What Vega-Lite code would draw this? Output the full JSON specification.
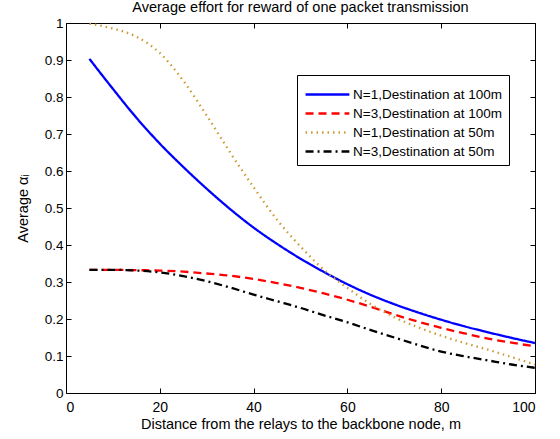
{
  "$schema": "https://vega.github.io/schema/vega-lite/v6.json",
  "width": 469,
  "height": 370,
  "autosize": {"type": "none"},
  "padding": {"left": 66, "top": 23, "right": 25, "bottom": 46},
  "background": "white",
  "config": {
    "font": "Liberation Sans",
    "view": {"stroke": "black", "strokeWidth": 1},
    "axis": {"grid": false, "domain": false, "tickColor": "black", "tickSize": -5, "labelPadding": 8, "labelColor": "black", "labelFontSize": 14, "titleFontSize": 14.5, "titleFontWeight": "normal", "titleColor": "black", "labelFont": "Liberation Sans", "titleFont": "Liberation Sans"},
    "legend": {"labelFont": "Liberation Sans"}
  },
  "title": {"text": "Average effort for reward of one packet transmission", "fontSize": 14.5, "fontWeight": "normal", "font": "Liberation Sans", "color": "black", "offset": 1},
  "data": {"values": [
    {"x": 5, "y": 0.903, "s": "N=1,Destination at 100m"},
    {"x": 10, "y": 0.822, "s": "N=1,Destination at 100m"},
    {"x": 15, "y": 0.744, "s": "N=1,Destination at 100m"},
    {"x": 20, "y": 0.674, "s": "N=1,Destination at 100m"},
    {"x": 25, "y": 0.611, "s": "N=1,Destination at 100m"},
    {"x": 30, "y": 0.552, "s": "N=1,Destination at 100m"},
    {"x": 35, "y": 0.497, "s": "N=1,Destination at 100m"},
    {"x": 40, "y": 0.447, "s": "N=1,Destination at 100m"},
    {"x": 45, "y": 0.403, "s": "N=1,Destination at 100m"},
    {"x": 50, "y": 0.363, "s": "N=1,Destination at 100m"},
    {"x": 55, "y": 0.327, "s": "N=1,Destination at 100m"},
    {"x": 60, "y": 0.294, "s": "N=1,Destination at 100m"},
    {"x": 65, "y": 0.265, "s": "N=1,Destination at 100m"},
    {"x": 70, "y": 0.24, "s": "N=1,Destination at 100m"},
    {"x": 75, "y": 0.218, "s": "N=1,Destination at 100m"},
    {"x": 80, "y": 0.198, "s": "N=1,Destination at 100m"},
    {"x": 85, "y": 0.18, "s": "N=1,Destination at 100m"},
    {"x": 90, "y": 0.164, "s": "N=1,Destination at 100m"},
    {"x": 95, "y": 0.149, "s": "N=1,Destination at 100m"},
    {"x": 100, "y": 0.135, "s": "N=1,Destination at 100m"},
    {"x": 5, "y": 0.333, "s": "N=3,Destination at 100m"},
    {"x": 10, "y": 0.333, "s": "N=3,Destination at 100m"},
    {"x": 15, "y": 0.332, "s": "N=3,Destination at 100m"},
    {"x": 20, "y": 0.331, "s": "N=3,Destination at 100m"},
    {"x": 25, "y": 0.328, "s": "N=3,Destination at 100m"},
    {"x": 30, "y": 0.323, "s": "N=3,Destination at 100m"},
    {"x": 35, "y": 0.317, "s": "N=3,Destination at 100m"},
    {"x": 40, "y": 0.308, "s": "N=3,Destination at 100m"},
    {"x": 45, "y": 0.297, "s": "N=3,Destination at 100m"},
    {"x": 50, "y": 0.284, "s": "N=3,Destination at 100m"},
    {"x": 55, "y": 0.269, "s": "N=3,Destination at 100m"},
    {"x": 60, "y": 0.252, "s": "N=3,Destination at 100m"},
    {"x": 65, "y": 0.233, "s": "N=3,Destination at 100m"},
    {"x": 70, "y": 0.212, "s": "N=3,Destination at 100m"},
    {"x": 75, "y": 0.193, "s": "N=3,Destination at 100m"},
    {"x": 80, "y": 0.176, "s": "N=3,Destination at 100m"},
    {"x": 85, "y": 0.161, "s": "N=3,Destination at 100m"},
    {"x": 90, "y": 0.147, "s": "N=3,Destination at 100m"},
    {"x": 95, "y": 0.136, "s": "N=3,Destination at 100m"},
    {"x": 100, "y": 0.126, "s": "N=3,Destination at 100m"},
    {"x": 5, "y": 0.998, "s": "N=1,Destination at 50m"},
    {"x": 10, "y": 0.985, "s": "N=1,Destination at 50m"},
    {"x": 15, "y": 0.963, "s": "N=1,Destination at 50m"},
    {"x": 20, "y": 0.919, "s": "N=1,Destination at 50m"},
    {"x": 25, "y": 0.844, "s": "N=1,Destination at 50m"},
    {"x": 30, "y": 0.75, "s": "N=1,Destination at 50m"},
    {"x": 35, "y": 0.65, "s": "N=1,Destination at 50m"},
    {"x": 40, "y": 0.556, "s": "N=1,Destination at 50m"},
    {"x": 45, "y": 0.468, "s": "N=1,Destination at 50m"},
    {"x": 50, "y": 0.396, "s": "N=1,Destination at 50m"},
    {"x": 55, "y": 0.333, "s": "N=1,Destination at 50m"},
    {"x": 60, "y": 0.284, "s": "N=1,Destination at 50m"},
    {"x": 65, "y": 0.24, "s": "N=1,Destination at 50m"},
    {"x": 70, "y": 0.205, "s": "N=1,Destination at 50m"},
    {"x": 75, "y": 0.178, "s": "N=1,Destination at 50m"},
    {"x": 80, "y": 0.155, "s": "N=1,Destination at 50m"},
    {"x": 85, "y": 0.135, "s": "N=1,Destination at 50m"},
    {"x": 90, "y": 0.117, "s": "N=1,Destination at 50m"},
    {"x": 95, "y": 0.097, "s": "N=1,Destination at 50m"},
    {"x": 100, "y": 0.077, "s": "N=1,Destination at 50m"},
    {"x": 5, "y": 0.333, "s": "N=3,Destination at 50m"},
    {"x": 10, "y": 0.333, "s": "N=3,Destination at 50m"},
    {"x": 15, "y": 0.331, "s": "N=3,Destination at 50m"},
    {"x": 20, "y": 0.326, "s": "N=3,Destination at 50m"},
    {"x": 25, "y": 0.316, "s": "N=3,Destination at 50m"},
    {"x": 30, "y": 0.302, "s": "N=3,Destination at 50m"},
    {"x": 35, "y": 0.285, "s": "N=3,Destination at 50m"},
    {"x": 40, "y": 0.266, "s": "N=3,Destination at 50m"},
    {"x": 45, "y": 0.248, "s": "N=3,Destination at 50m"},
    {"x": 50, "y": 0.23, "s": "N=3,Destination at 50m"},
    {"x": 55, "y": 0.21, "s": "N=3,Destination at 50m"},
    {"x": 60, "y": 0.191, "s": "N=3,Destination at 50m"},
    {"x": 65, "y": 0.17, "s": "N=3,Destination at 50m"},
    {"x": 70, "y": 0.15, "s": "N=3,Destination at 50m"},
    {"x": 75, "y": 0.13, "s": "N=3,Destination at 50m"},
    {"x": 80, "y": 0.112, "s": "N=3,Destination at 50m"},
    {"x": 85, "y": 0.099, "s": "N=3,Destination at 50m"},
    {"x": 90, "y": 0.088, "s": "N=3,Destination at 50m"},
    {"x": 95, "y": 0.077, "s": "N=3,Destination at 50m"},
    {"x": 100, "y": 0.068, "s": "N=3,Destination at 50m"}
  ]},
  "layer": [
    {
      "mark": {"type": "line", "strokeWidth": 2.3, "interpolate": "monotone"},
      "encoding": {
        "x": {"field": "x", "type": "quantitative", "scale": {"domain": [0, 100], "nice": false}, "axis": {"values": [0, 20, 40, 60, 80, 100], "title": "Distance from the relays to the backbone node, m", "labelPadding": 12, "titlePadding": 3}},
        "y": {"field": "y", "type": "quantitative", "scale": {"domain": [0, 1], "nice": false}, "axis": {"values": [0, 0.1, 0.2, 0.3, 0.4, 0.5, 0.6, 0.7, 0.8, 0.9, 1], "format": "~g", "title": "Average αᵢ", "titlePadding": 14, "labelFontSize": 13.5}},
        "color": {"field": "s", "type": "nominal", "sort": null,
          "scale": {"domain": ["N=1,Destination at 100m", "N=3,Destination at 100m", "N=1,Destination at 50m", "N=3,Destination at 50m"], "range": ["#0000ff", "#ff0000", "#cc9933", "#000000"]},
          "legend": {"orient": "none", "legendX": 231, "legendY": 52, "title": null, "strokeColor": "black", "fillColor": "white", "padding": 7, "labelFontSize": 13.5, "labelColor": "black", "symbolType": "M-1,0H3", "symbolSize": 480, "symbolStrokeWidth": 2.5, "symbolFillColor": "transparent", "rowPadding": -1, "labelOffset": 24, "labelLimit": 300, "cornerRadius": 0}},
        "strokeDash": {"field": "s", "type": "nominal", "sort": null,
          "scale": {"domain": ["N=1,Destination at 100m", "N=3,Destination at 100m", "N=1,Destination at 50m", "N=3,Destination at 50m"], "range": [[1, 0], [8, 5], [1.5, 4], [8, 4, 2, 4]]},
          "legend": {"orient": "none", "legendX": 231, "legendY": 52, "title": null, "strokeColor": "black", "fillColor": "white", "padding": 7, "labelFontSize": 13.5, "labelColor": "black", "symbolType": "M-1,0H3", "symbolSize": 480, "symbolStrokeWidth": 2.5, "symbolFillColor": "transparent", "rowPadding": -1, "labelOffset": 24, "labelLimit": 300, "cornerRadius": 0}}
      }
    },
    {
      "mark": {"type": "line", "opacity": 0},
      "encoding": {
        "x": {"field": "x", "type": "quantitative", "scale": {"domain": [0, 100], "nice": false}, "axis": {"orient": "top", "values": [0, 20, 40, 60, 80, 100], "labels": false, "title": null}},
        "y": {"field": "y", "type": "quantitative", "scale": {"domain": [0, 1], "nice": false}, "axis": {"orient": "right", "values": [0, 0.1, 0.2, 0.3, 0.4, 0.5, 0.6, 0.7, 0.8, 0.9, 1], "labels": false, "title": null}},
        "detail": {"field": "s"}
      }
    }
  ],
  "resolve": {"axis": {"x": "independent", "y": "independent"}}
}
